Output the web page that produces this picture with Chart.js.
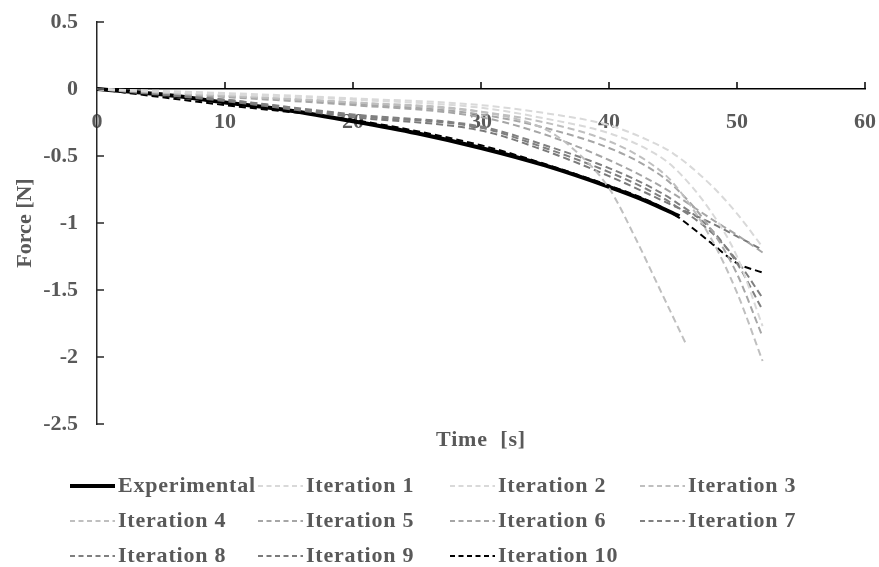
<!DOCTYPE html>
<html>
<head>
<meta charset="utf-8">
<script src="https://cdn.jsdelivr.net/npm/chart.js@4"></script>
<style>
  html, body { margin: 0; padding: 0; background: #fff; }
  #wrap { width: 879px; height: 567px; }
</style>
</head>
<body>
<div id="wrap"><canvas id="forceChart" width="879" height="567"></canvas></div>
<script>
// valores
var expTime = [0, 5, 10, 15, 20, 25, 30, 35, 40, 43, 45.5];
var expForce = [0, -0.04, -0.1, -0.16, -0.24, -0.33, -0.44, -0.57, -0.73, -0.84, -0.95];

var iterTime = [0, 10, 20, 30, 35, 40, 43, 45, 48, 50, 52];
var iter3Time = [0, 10, 20, 30, 35, 37, 40, 42, 44, 46];

var iter1 = [0, -0.03, -0.07, -0.12, -0.18, -0.27, -0.38, -0.48, -0.72, -0.93, -1.18];
var iter2 = [0, -0.04, -0.08, -0.14, -0.22, -0.33, -0.45, -0.58, -0.92, -1.25, -1.77];
var iter3 = [0, -0.05, -0.10, -0.17, -0.30, -0.43, -0.74, -1.10, -1.50, -1.90];
var iter4 = [0, -0.05, -0.10, -0.17, -0.25, -0.39, -0.54, -0.70, -1.12, -1.52, -2.03];
var iter5 = [0, -0.05, -0.11, -0.19, -0.29, -0.44, -0.58, -0.72, -1.05, -1.38, -1.85];
var iter6 = [0, -0.06, -0.12, -0.21, -0.34, -0.53, -0.67, -0.78, -0.97, -1.09, -1.22];
var iter7 = [0, -0.08, -0.19, -0.28, -0.42, -0.59, -0.72, -0.83, -1.05, -1.30, -1.65];
var iter8 = [0, -0.08, -0.20, -0.29, -0.44, -0.62, -0.75, -0.86, -1.07, -1.28, -1.56];
var iter9 = [0, -0.09, -0.21, -0.31, -0.46, -0.65, -0.78, -0.87, -1.00, -1.10, -1.20];
var iter10 = [0, -0.12, -0.23, -0.42, -0.56, -0.72, -0.83, -0.93, -1.15, -1.30, -1.37];

var xTicks = [0, 10, 20, 30, 40, 50, 60];
var yTicks = [0.5, 0, -0.5, -1, -1.5, -2, -2.5];

var iterValues = [iter1, iter2, iter3, iter4, iter5, iter6, iter7, iter8, iter9, iter10];
var iterColors = ['#d9d9d9', '#d9d9d9', '#bfbfbf', '#bfbfbf', '#a6a6a6', '#a6a6a6', '#808080', '#7f7f7f', '#7a7a7a', '#000000'];

var textColor = '#595959';
var fontFamily = "'Liberation Serif', 'Times New Roman', serif";

function toPoints(times, values) {
    return values.map(function (v, i) { return { x: times[i], y: v }; });
}

var datasets = [{
    label: 'Experimental',
    data: toPoints(expTime, expForce),
    borderColor: '#000000',
    borderWidth: 4,
    order: 1
}];
iterValues.forEach(function (vals, i) {
    datasets.push({
        label: 'Iteration ' + (i + 1),
        data: toPoints(i === 2 ? iter3Time : iterTime, vals),
        borderColor: iterColors[i],
        borderWidth: 2,
        borderDash: [7, 4],
        order: 0
    });
});

// marcas de escala para dentro + título do eixo x + legenda em grade
var extras = {
    id: 'extras',
    afterDraw: function (chart) {
        var c = chart.ctx;
        var xs = chart.scales.x, ys = chart.scales.y;
        var y0 = ys.getPixelForValue(0);
        c.save();
        c.strokeStyle = '#000';
        c.lineWidth = 1.5;
        xTicks.forEach(function (t) {
            if (t === 0) return;
            var px = xs.getPixelForValue(t);
            c.beginPath(); c.moveTo(px, y0); c.lineTo(px, y0 - 7); c.stroke();
        });
        c.strokeStyle = '#262626';
        yTicks.forEach(function (t) {
            var py = ys.getPixelForValue(t);
            c.beginPath(); c.moveTo(ys.right, py); c.lineTo(ys.right + 7, py); c.stroke();
        });

        c.fillStyle = textColor;
        c.font = 'bold 22px ' + fontFamily;
        c.letterSpacing = '0.8px';
        c.textAlign = 'center';
        c.textBaseline = 'middle';
        c.fillText('Time  [s]', (chart.chartArea.left + chart.chartArea.right) / 2, 440);

        var colX = [70, 258, 450, 640];
        var rowY = [486, 521, 556];
        c.textAlign = 'left';
        chart.data.datasets.forEach(function (ds, i) {
            var x = colX[i % 4], y = rowY[Math.floor(i / 4)];
            c.beginPath();
            c.strokeStyle = ds.borderColor;
            c.lineWidth = ds.borderWidth;
            c.setLineDash(ds.borderDash ? [5, 3.5] : []);
            c.moveTo(x, y); c.lineTo(x + 45, y);
            c.stroke();
            c.setLineDash([]);
            c.fillText(ds.label, x + 48, y);
        });
        c.restore();
    }
};

var tickFont = { family: fontFamily, size: 22, weight: 'bold' };
function plainLabel(v) { return String(v); }

var ctx = document.getElementById('forceChart').getContext('2d');
var forceChart = new Chart(ctx, {
    type: 'line',
    data: { datasets: datasets },
    options: {
        responsive: false,
        animation: false,
        layout: { padding: { left: 0, right: 14, top: 22, bottom: 143 } },
        elements: {
            point: { radius: 0 },
            line: { cubicInterpolationMode: 'monotone', fill: false }
        },
        plugins: { legend: { display: false }, tooltip: { enabled: false } },
        scales: {
            x: {
                type: 'linear',
                min: 0, max: 60,
                position: { y: 0 },
                afterBuildTicks: function (s) { s.ticks = xTicks.map(function (v) { return { value: v }; }); },
                afterFit: function (s) { s.paddingLeft = 0; s.paddingRight = 0; },
                grid: { drawOnChartArea: false, drawTicks: false },
                border: { color: '#000', width: 1.5 },
                ticks: { padding: 20, color: textColor, font: tickFont, callback: plainLabel }
            },
            y: {
                min: -2.5, max: 0.5,
                afterBuildTicks: function (s) { s.ticks = yTicks.map(function (v) { return { value: v }; }); },
                afterFit: function (s) { s.width = 97; s.paddingTop = 0; s.paddingBottom = 0; },
                grid: { drawOnChartArea: false, drawTicks: false },
                border: { color: '#262626', width: 1.5 },
                ticks: { padding: 19, color: textColor, font: tickFont, callback: plainLabel },
                title: {
                    display: true,
                    text: 'Force [N]',
                    color: textColor,
                    padding: { top: 12, bottom: 0 },
                    font: tickFont
                }
            }
        }
    },
    plugins: [extras]
});
</script>
</body>
</html>
